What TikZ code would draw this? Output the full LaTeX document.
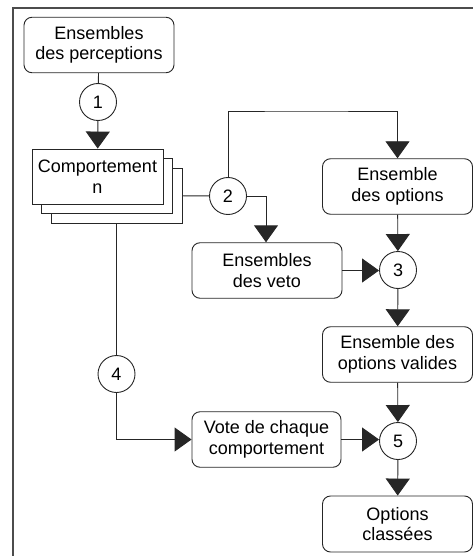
\documentclass[tikz,border=0pt]{standalone}
\usepackage{fontspec}
\setmainfont{Liberation Sans}
\usetikzlibrary{arrows.meta}
\begin{document}
\begin{tikzpicture}[x=1pt,y=-1pt,
  every node/.style={font=\fontsize{18}{20.5}\selectfont},
  rbox/.style={draw=black!85, line width=0.9pt, rounded corners=8pt, fill=white, inner sep=0pt, align=center, minimum width=150pt, minimum height=55.5pt},
  sbox/.style={draw=black!85, line width=0.9pt, fill=white, inner sep=0pt, align=center, minimum width=131pt, minimum height=55pt},
  num/.style={draw=black!85, line width=0.9pt, circle, fill=white, inner sep=0pt, minimum size=37pt},
  ln/.style={draw=black!85, line width=0.9pt},
  arr/.style={ln, -{Triangle[width=24pt,length=17pt]}}]
\useasboundingbox (0,0) rectangle (473,556);
% frame
\coordinate (f0) at (13,8);
\coordinate (f1) at (473,8);
\coordinate (f2) at (13,556);
\draw[black!70, line width=1.3pt] (f2) -- (f0) -- (f1);
% nodes
\node[rbox] (perc) at (99,45) {Ensembles\\des perceptions};
\node[num] (c1) at (98,102) {1};
\node[sbox] (cb) at (116.5,195.5) {};
\node[sbox] (cm) at (107,186) {};
\node[sbox] (cf) at (97.5,176.5) {Comportement\\n};
\node[num] (c2) at (228,196) {2};
\node[rbox] (opts) at (397.5,186.5) {Ensemble\\des options};
\node[rbox] (veto) at (267,270.5) {Ensembles\\des veto};
\node[num] (c3) at (398,270) {3};
\node[rbox] (val) at (397.5,354.5) {Ensemble des\\options valides};
\node[num] (c4) at (116.5,374) {4};
\node[rbox, minimum width=149pt] (vote) at (266.5,439.5) {Vote de chaque\\comportement};
\node[num] (c5) at (398,441) {5};
\node[rbox, minimum height=56pt] (cls) at (397.5,524) {Options\\classées};
\coordinate (k1) at (300,111);
\coordinate (k2) at (266,196);
\coordinate (k3) at (116.5,439.5);
% connectors
\draw[ln] (perc) -- (c1);
\draw[arr] (c1) -- (cf);
\draw[ln] (cb) -- (c2);
\draw[arr] (c2.north) |- (k1) -| (opts.north);
\draw[arr] (c2.east) -- (k2) -- (veto.north -| k2);
\draw[arr] (opts) -- (c3);
\draw[arr] (veto.east) -- (c3.west |- veto.east);
\draw[arr] (c3) -- (val);
\draw[arr] (val) -- (c5);
\draw[arr] (vote.east) -- (c5.west |- vote.east);
\draw[arr] (c5) -- (cls);
\draw[ln] (cb.south) -- (c4);
\draw[arr] (c4.south) -- (k3) -- (vote.west);
\end{tikzpicture}
\end{document}
